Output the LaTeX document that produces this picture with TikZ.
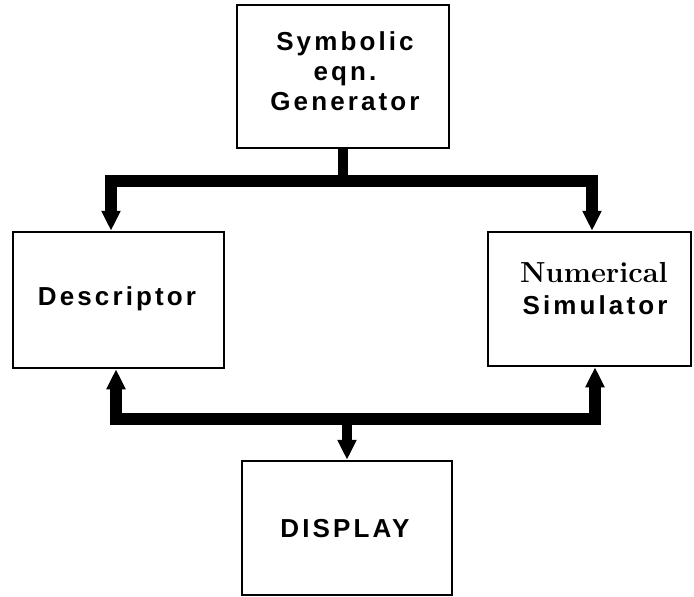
\documentclass[tikz,border=0pt]{standalone}
\usepackage{fontspec}
\usetikzlibrary{arrows.meta}
\newfontfamily\labfont[LetterSpace=12]{Liberation Sans}
\tikzset{
  box/.style={draw, line width=2.5pt, inner sep=0pt, fill=none},
  sanslab/.style={font=\labfont\bfseries\fontsize{26}{30}\selectfont, inner sep=0pt, anchor=base},
  seriflab/.style={font=\rmfamily\bfseries\fontsize{29}{32}\selectfont, inner sep=0pt, anchor=base},
  bus/.style={line width=12.5pt, line join=miter, line cap=butt},
  tip/.style={-{Triangle[length=20pt,width=18pt]}},
  tips/.style={{Triangle[length=20pt,width=18pt]}-{Triangle[length=20pt,width=18pt]}}
}
\begin{document}
\begin{tikzpicture}[x=1pt,y=-1pt]
\useasboundingbox[fill=white] (0,0) rectangle (694,597);
% boxes
\node[box, minimum width=212pt, minimum height=143pt] (sym) at (343,76.5) {};
\node[box, minimum width=211pt, minimum height=136pt] (desc) at (118.5,300) {};
\node[box, minimum width=203pt, minimum height=134pt] (num) at (589.5,299) {};
\node[box, minimum width=210pt, minimum height=134pt] (disp) at (347,528) {};
% labels
\node[sanslab] (symA) at (345,50) {Symbolic};
\node[sanslab] (symB) at (345,80) {eqn.};
\node[sanslab] (symC) at (345,110) {Generator};
\node[sanslab] (descT) at (117,305) {Descriptor};
\node[seriflab] (numA) at (594,282) {Numerical};
\node[sanslab] (numB) at (595,314) {Simulator};
\node[sanslab] (dispT) at (345,537) {DISPLAY};
% upper bus
\coordinate (ua) at (111,181);
\coordinate (um) at (343,181);
\coordinate (ub) at (592,181);
\draw[line width=10pt] (sym.south) -- ([yshift=-2pt]um);
\draw[bus, tips] (desc.north -| ua) -- (ua) -- (ub) -- (num.north -| ub);
% lower bus
\coordinate (la) at (116,419);
\coordinate (lb) at (595,419);
\draw[bus, tips] (desc.south -| la) -- (la) -- (lb) -- (num.south -| lb);
\draw[line width=10pt, tip] ([yshift=2pt]disp.north |- la) -- (disp.north);
\end{tikzpicture}
\end{document}
